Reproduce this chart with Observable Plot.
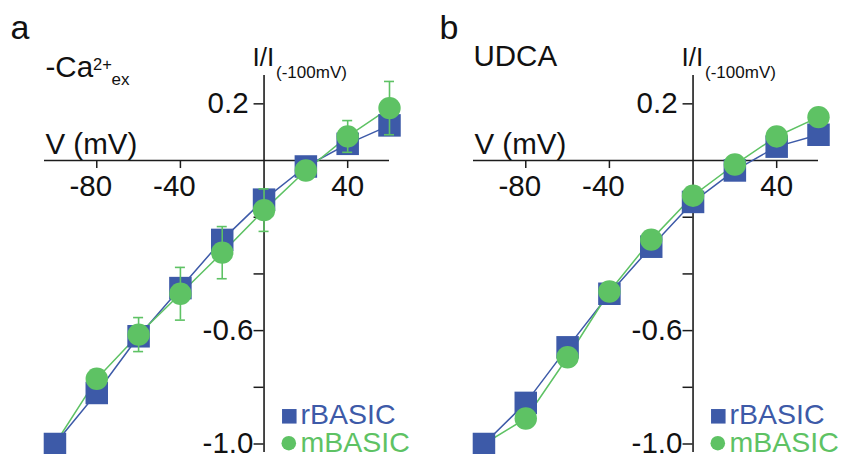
<!DOCTYPE html>
<html><head><meta charset="utf-8">
<script src="https://cdn.jsdelivr.net/npm/d3@7"></script>
<script src="https://cdn.jsdelivr.net/npm/@observablehq/plot@0.6"></script>
<style>
html,body{margin:0;padding:0;background:#fff;}
#fig{position:relative;width:843px;height:454px;overflow:hidden;}
.panel{position:absolute;top:0;}
</style></head><body><div id="fig"></div>
<script>
// ---- data ----
const voltages = [-100, -80, -60, -40, -20, 0, 20, 40, 60];
// panel a: -Ca2+ex
const aRBASIC = [-1.0, -0.82, -0.62, -0.45, -0.28, -0.138, -0.021, 0.059, 0.124];
const aMBASIC = [-1.0, -0.77, -0.614, -0.47, -0.325, -0.175, -0.035, 0.085, 0.185];
const aMBASICerr = [0, 0.03, 0.06, 0.093, 0.092, 0.075, 0.03, 0.056, 0.094];
// panel b: UDCA
const bRBASIC = [-1.0, -0.855, -0.659, -0.47, -0.304, -0.146, -0.035, 0.049, 0.091];
const bMBASIC = [-1.0, -0.91, -0.694, -0.462, -0.279, -0.124, -0.014, 0.085, 0.153];
// axes
const xTickValues = [-80, -40, 40];
const yTickValues = [0.2, -0.2, -0.4, -0.6, -0.8, -1.0];
const yLabelValues = [0.2, -0.6, -1.0];
const seriesNames = ["rBASIC", "mBASIC"];
const blue = "#3d5aa8", green = "#5ec264", axisColor = "#1c1c1c";
const FONT = "'Liberation Sans', Arial, Helvetica, sans-serif";
const FS = 29.5;
const LFS = 28.5;

function panel({letter, rVals, mVals, mErr, subtitle}) {
  const rows = voltages.map((v, i) => ({v, r: rVals[i], m: mVals[i], e: mErr ? mErr[i] : 0}));
  const marks = [
    // axis lines
    Plot.ruleY([0], {x1: () => -105, x2: () => 60, stroke: axisColor, strokeWidth: 1.6}),
    Plot.ruleX([0], {y1: () => -1.03, y2: () => 0.3, stroke: axisColor, strokeWidth: 1.6}),
    // ticks
    Plot.ruleX(xTickValues, {x: d => d, y1: () => 0, y2: () => 0, insetBottom: -8, stroke: axisColor, strokeWidth: 1.5}),
    Plot.ruleY(yTickValues, {y: d => d, x1: () => 0, x2: () => 0, insetLeft: -10, stroke: axisColor, strokeWidth: 1.5}),
    // tick labels (negative labels nudged so the digits sit under the tick)
    Plot.text(xTickValues.filter(d => d < 0), {x: d => d, y: () => 0, text: d => String(d), lineAnchor: "top", dy: 14.5,
      dx: -6, fontSize: FS, fill: "#111", fontFamily: FONT}),
    Plot.text(xTickValues.filter(d => d >= 0), {x: d => d, y: () => 0, text: d => String(d), lineAnchor: "top", dy: 14.5,
      fontSize: FS, fill: "#111", fontFamily: FONT}),
    Plot.text(yLabelValues, {x: () => 0, y: d => d, text: d => d.toFixed(1), textAnchor: "middle", lineAnchor: "middle",
      dx: -36, fontSize: FS, fill: "#111", fontFamily: FONT}),
    // series lines
    Plot.line(rows, {x: "v", y: "r", stroke: blue, strokeWidth: 1.5}),
    Plot.line(rows, {x: "v", y: "m", stroke: green, strokeWidth: 1.5}),
    Plot.dot(rows, {x: "v", y: "r", symbol: "square", r: 12.7, fill: blue, stroke: "none"}),
  ];
  if (mErr) {
    const errRows = rows.filter(d => d.e > 0);
    marks.push(
      Plot.ruleX(errRows, {x: "v", y1: d => d.m - d.e, y2: d => d.m + d.e, stroke: green, strokeWidth: 1.6}),
      Plot.ruleY(errRows, {y: d => d.m + d.e, x1: "v", x2: "v", insetLeft: -5, insetRight: -5, stroke: green, strokeWidth: 1.6}),
      Plot.ruleY(errRows, {y: d => d.m - d.e, x1: "v", x2: "v", insetLeft: -5, insetRight: -5, stroke: green, strokeWidth: 1.6})
    );
  }
  marks.push(
    Plot.dot(rows.filter(d => d.v > -100), {x: "v", y: "m", r: 11.2, fill: green, stroke: "none"}),
    // axis titles
    Plot.text(["V (mV)"], {x: () => -105, y: () => 0, text: d => d, textAnchor: "start", lineAnchor: "bottom",
      dx: 1, dy: -7, fontSize: FS, fill: "#111", fontFamily: FONT}),
    Plot.text(["I/I"], {x: () => 0, y: () => 0.3, text: d => d, textAnchor: "start", lineAnchor: "bottom",
      dx: -11.5, dy: -9.5, fontSize: 26, fill: "#111", fontFamily: FONT}),
    Plot.text(["(-100mV)"], {x: () => 0, y: () => 0.3, text: d => d, textAnchor: "start", lineAnchor: "bottom",
      dx: 12, dy: 2, fontSize: 17, fill: "#111", fontFamily: FONT}),
    // panel letter
    Plot.text([letter], {frameAnchor: "top-left", text: d => d, textAnchor: "start", lineAnchor: "bottom",
      dx: -34, dy: -36.7, fontSize: 34, fill: "#111", fontFamily: FONT}),
    // legend
    Plot.dot([seriesNames[0]], {frameAnchor: "bottom-right", dx: -100.2, dy: -36.2, symbol: "square", r: 8.2, fill: blue}),
    Plot.dot([seriesNames[1]], {frameAnchor: "bottom-right", dx: -100.7, dy: -9.3, r: 7.3, fill: green}),
    Plot.text([seriesNames[0]], {frameAnchor: "bottom-right", text: d => d, textAnchor: "start", lineAnchor: "bottom",
      dx: -89, dy: -29, fontSize: LFS, fill: blue, fontFamily: FONT}),
    Plot.text([seriesNames[1]], {frameAnchor: "bottom-right", text: d => d, textAnchor: "start", lineAnchor: "bottom",
      dx: -89, dy: -0.5, fontSize: LFS, fill: green, fontFamily: FONT})
  );
  marks.push(...subtitle);
  return Plot.plot({
    width: 414, height: 454,
    marginLeft: 44, marginRight: 25, marginTop: 75, marginBottom: 2,
    x: {domain: [-105, 60], axis: null},
    y: {domain: [-1.03, 0.3], axis: null},
    style: {background: "transparent", overflow: "visible", fontFamily: FONT},
    marks
  });
}

const subA = [
  Plot.text(["-Ca"], {frameAnchor: "top-left", text: d => d, textAnchor: "start", lineAnchor: "bottom",
    dx: 1, dy: 1, fontSize: FS, fill: "#111", fontFamily: FONT}),
  Plot.text(["2+"], {frameAnchor: "top-left", text: d => d, textAnchor: "start", lineAnchor: "bottom",
    dx: 48.5, dy: -6, fontSize: 16.5, fill: "#111", fontFamily: FONT}),
  Plot.text(["ex"], {frameAnchor: "top-left", text: d => d, textAnchor: "start", lineAnchor: "bottom",
    dx: 67, dy: 9.3, fontSize: 17, fill: "#111", fontFamily: FONT})
];
const subB = [
  Plot.text(["UDCA"], {frameAnchor: "top-left", text: d => d, textAnchor: "start", lineAnchor: "bottom",
    dx: 0, dy: -10, fontSize: FS, fill: "#111", fontFamily: FONT})
];

const fig = document.getElementById("fig");
const pa = panel({letter: "a", rVals: aRBASIC, mVals: aMBASIC, mErr: aMBASICerr, subtitle: subA});
const pb = panel({letter: "b", rVals: bRBASIC, mVals: bMBASIC, mErr: null, subtitle: subB});
const da = document.createElement("div"); da.className = "panel"; da.style.left = "0px"; da.appendChild(pa);
const db = document.createElement("div"); db.className = "panel"; db.style.left = "429px"; db.appendChild(pb);
fig.appendChild(da); fig.appendChild(db);
</script></body></html>
